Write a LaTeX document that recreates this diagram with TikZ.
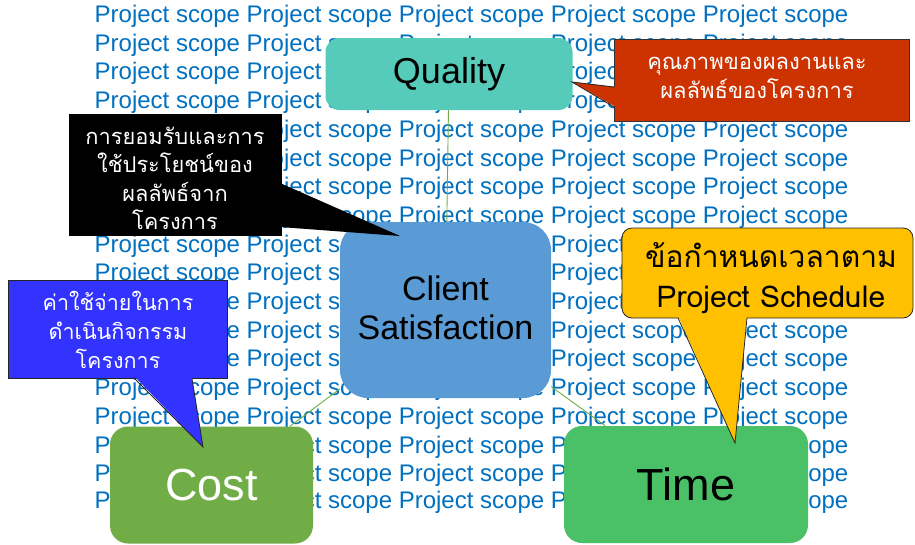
\documentclass[tikz,border=0pt]{standalone}
\usepackage{fontspec}
\setmainfont{Liberation Sans}
\newfontfamily\thai[Script=Thai]{Loma}
\usetikzlibrary{calc}

\definecolor{scopeblue}{RGB}{0,112,192}
\definecolor{qualteal}{RGB}{86,203,185}
\definecolor{clientblue}{RGB}{91,155,213}
\definecolor{costgreen}{RGB}{112,173,71}
\definecolor{timegreen}{RGB}{74,193,103}
\definecolor{linkgreen}{RGB}{112,173,71}
\definecolor{notered}{RGB}{204,51,0}
\definecolor{noteblue}{RGB}{51,51,255}
\definecolor{noteyellow}{RGB}{255,192,0}

\tikzset{
  scopetext/.style={anchor=base west, inner sep=0pt, text=scopeblue,
    font=\fontsize{24}{30}\selectfont},
  topic/.style={inner sep=0pt, align=center},
  link/.style={draw=linkgreen, line width=0.9pt},
  notebox/.style={inner sep=0pt, align=center, text=white},
  tipedge/.style={draw=black!85, line width=0.8pt, line join=miter},
}

\begin{document}
\begin{tikzpicture}[x=1pt,y=-1pt]
\useasboundingbox (0,0) rectangle (915,544);
\fill[white] (0,0) rectangle (915,544);

% repeated background wording
\foreach \i in {1,...,17}
  \node[scopetext] (row\i) at (94.5,{22.5+28.7*(\i-1)})
    {Project scope Project scope Project scope Project scope Project scope};
\node[scopetext] (row18) at (94.5,508)
    {Project scope Project scope Project scope Project scope Project scope};

% the four topics
\node[topic, fill=qualteal, rounded corners=14pt, minimum width=247pt, minimum height=72pt,
      font=\fontsize{36}{40}\selectfont] (quality) at (449,74) {Quality};
\node[topic, fill=clientblue, rounded corners=28pt, minimum width=211pt, minimum height=176pt] (client) at (445.5,310) {};
\node[topic, font=\fontsize{34}{39}\selectfont] (clienttext) at (445.5,307.5) {Client\\Satisfaction};
\node[topic, fill=costgreen, rounded corners=18pt, minimum width=203pt, minimum height=117pt,
      text=white, font=\fontsize{45}{50}\selectfont] (cost) at (211.5,485) {Cost};
\node[topic, fill=timegreen, rounded corners=18pt, minimum width=244pt, minimum height=117pt,
      font=\fontsize{45}{50}\selectfont] (time) at (686,484.5) {Time};

% links between the topics
\draw[link] (quality) -- (client);
\draw[link] (client) -- (cost);
\draw[link] (client) -- (time);

% callout: quality
\node[notebox, fill=notered, draw=black!80, line width=0.8pt, minimum width=295pt, minimum height=82pt] (rednote) at (761.5,80) {};
\node[notebox, font=\thai\fontsize{22}{29}\selectfont] (redtext) at (757,77.5)
      {คุณภาพของผลงานและ\\ผลลัพธ์ของโครงการ};
\coordinate (redtip) at (572,82);
\fill[notered] (616,87) -- (redtip) -- (616,107) -- cycle;
\draw[tipedge] (614,87) -- (redtip) -- (614,107);

% callout: client satisfaction
\node[notebox, fill=black, minimum width=213pt, minimum height=122pt] (blacknote) at (175.5,175) {};
\node[notebox, font=\thai\fontsize{21.8}{28.5}\selectfont] (blacktext) at (175,178.5)
      {การยอมรับและการ\\ใช้ประโยชน์ของ\\ผลลัพธ์จาก\\โครงการ};
\coordinate (blacktip) at (400,236);
\fill[black] (280,183) -- (blacktip) -- (280,227) -- cycle;

% callout: cost
\node[notebox, fill=noteblue, draw=black!85, line width=0.8pt, minimum width=219pt, minimum height=98pt] (bluenote) at (118,329.5) {};
\node[notebox, font=\thai\fontsize{21.5}{29}\selectfont] (bluetext) at (118,329.5)
      {ค่าใช้จ่ายในการ\\ดำเนินกิจกรรม\\โครงการ};
\coordinate (bluetip) at (203,447);
\fill[noteblue] (135,377) -- (bluetip) -- (192,377) -- cycle;
\draw[tipedge] (135,379) -- (bluetip) -- (192,379);

% callout: time
\node[notebox, fill=noteyellow, draw=black!85, line width=0.8pt, rounded corners=10pt,
      minimum width=291pt, minimum height=90pt] (yellownote) at (767.5,273) {};
\node[notebox, text=black, font=\thai\fontsize{30}{39.5}\selectfont] (yellowtext) at (771,278)
      {ข้อกำหนดเวลาตาม\\Project Schedule};
\coordinate (yellowtip) at (735,443);
\fill[noteyellow] (678,316) -- (yellowtip) -- (747,316) -- cycle;
\draw[tipedge] (678,318) -- (yellowtip) -- (747,318);
\end{tikzpicture}
\end{document}
